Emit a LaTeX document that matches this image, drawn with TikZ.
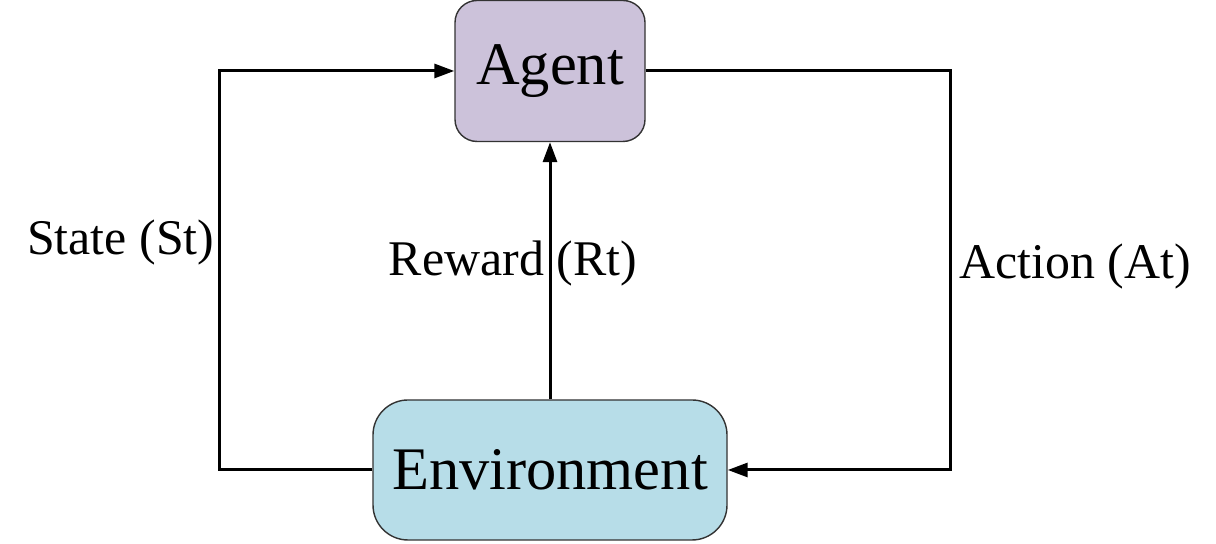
\documentclass[tikz,border=0pt]{standalone}
\usepackage{fontspec}
\setmainfont{Liberation Serif}
\usetikzlibrary{arrows.meta}
\definecolor{agentfill}{RGB}{204,194,218}
\definecolor{envfill}{RGB}{183,221,232}
\begin{document}
\begin{tikzpicture}[node distance=3.99cm, line width=0.85pt, >={Triangle[length=2mm,width=1.4mm]}]
        \useasboundingbox (0,0) rectangle (12.16,5.44);
        \node (env) [draw=black!80, line width=0.4pt, rectangle, rounded corners=0.35cm, fill=envfill, minimum width=3.54cm, minimum height=1.40cm, font=\fontsize{17.2}{20}\selectfont] at (5.50,0.74) {Environment};
        \node (agent) [draw=black!80, line width=0.4pt, rectangle, rounded corners=0.22cm, fill=agentfill, above of=env, minimum width=1.90cm, minimum height=1.41cm, font=\fontsize{17.2}{20}\selectfont] {Agent};

        \draw[->] (env.west) -- ++(-1.53,0) |- node[pos=0.285, left, inner sep=1pt, font=\fontsize{14.2}{17}\selectfont] {State (St)} (agent.west);
        \draw[->] (env.north) -- node[pos=0.53, xshift=-0.37cm, inner sep=0pt, font=\fontsize{14.2}{17}\selectfont] {Reward (Rt)} (agent.south);
        \draw[->] (agent.east) -- ++(3.05,0) |- node[pos=0.245, right, inner sep=2pt, font=\fontsize{14.2}{17}\selectfont] {Action (At)} (env.east);
    \end{tikzpicture}
\end{document}
